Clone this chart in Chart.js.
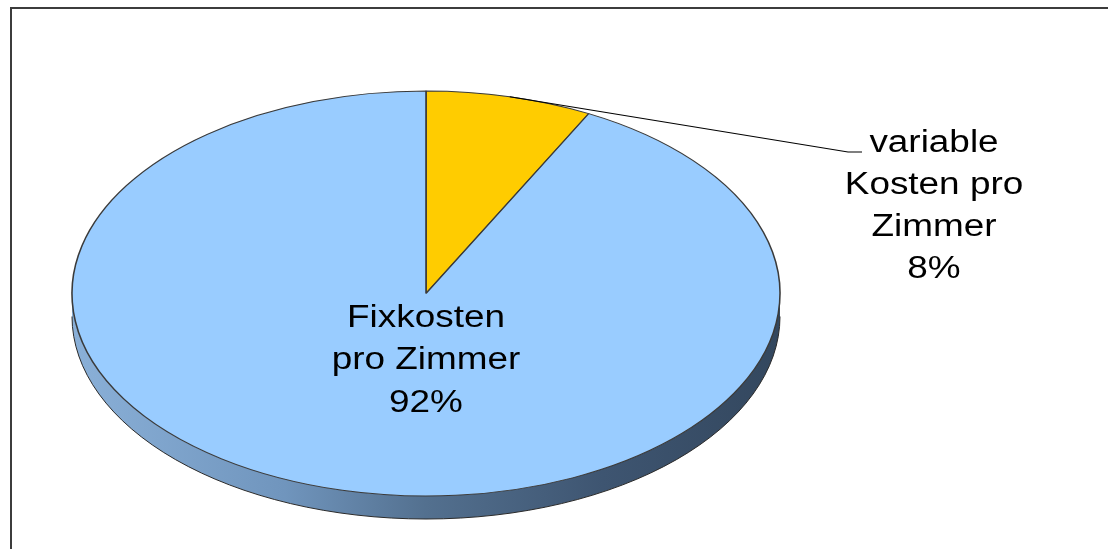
<!DOCTYPE html>
<html>
<head>
<meta charset="utf-8">
<script src="https://cdn.jsdelivr.net/npm/chart.js@4.4.1/dist/chart.umd.min.js"></script>
<style>
html,body{margin:0;padding:0;background:#fff;overflow:hidden;}
#c{display:block;}
</style>
</head>
<body>
<canvas id="c" width="1108" height="549"></canvas>
<script>
// ---- data ----
const categories = ['variable Kosten pro Zimmer', 'Fixkosten pro Zimmer'];
const nameLines = [['variable', 'Kosten pro', 'Zimmer'], ['Fixkosten', 'pro Zimmer']];
const values = [7.6, 92.4];
const colors = ['#FFCC00', '#99CCFF'];

// ---- styling / geometry ----
const SX = 354 / 202.5;      // horizontal stretch of the pie (ellipse)
const DEPTH = 23;            // 3D side depth
const FONT = '31px "Liberation Sans", Arial, sans-serif';
const TEXT_SX = 1.19;        // horizontal stretch of text

function drawText(ctx, s, x, y) {
  ctx.save();
  ctx.translate(x, y);
  ctx.scale(TEXT_SX, 1);
  ctx.fillText(s, 0, 0);
  ctx.restore();
}

const pie3d = {
  id: 'pie3d',
  beforeDraw(chart) {
    const ctx = chart.ctx;
    ctx.save();
    ctx.fillStyle = '#fff';
    ctx.fillRect(0, 0, chart.width, chart.height);
    ctx.strokeStyle = '#3c3c3c';
    ctx.lineWidth = 2;
    ctx.strokeRect(11, 8, 2000, 2000);
    ctx.restore();
  },
  beforeDatasetsDraw(chart) {
    const ctx = chart.ctx;
    const arc = chart.getDatasetMeta(0).data[0];
    const cx = arc.x, cy = arc.y, r = arc.outerRadius;
    const rx = r * SX, ry = r;
    ctx.save();
    const g = ctx.createLinearGradient(cx - rx, 0, cx + rx, 0);
    g.addColorStop(0, '#8AB0D8');
    g.addColorStop(0.3, '#7095BD');
    g.addColorStop(0.5, '#53708F');
    g.addColorStop(0.75, '#3E5571');
    g.addColorStop(1, '#33475E');
    ctx.beginPath();
    ctx.ellipse(cx, cy, rx, ry, 0, 0, Math.PI);
    ctx.ellipse(cx, cy + DEPTH, rx, ry, 0, Math.PI, 0, true);
    ctx.closePath();
    ctx.fillStyle = g;
    ctx.fill();
    ctx.beginPath();
    ctx.ellipse(cx, cy + DEPTH, rx, ry, 0, 0, Math.PI);
    ctx.strokeStyle = '#2a2a2a';
    ctx.lineWidth = 1;
    ctx.stroke();
    ctx.restore();
    // stretch the top face horizontally
    ctx.save();
    ctx.translate(cx, cy);
    ctx.scale(SX, 1);
    ctx.translate(-cx, -cy);
  },
  afterDatasetsDraw(chart) {
    chart.ctx.restore();
  },
  afterDraw(chart) {
    const ctx = chart.ctx;
    const meta = chart.getDatasetMeta(0);
    const total = values.reduce((a, b) => a + b, 0);
    const a0 = meta.data[0];
    const cx = a0.x, cy = a0.y, r = a0.outerRadius;
    ctx.save();
    ctx.font = FONT;
    ctx.fillStyle = '#000';
    ctx.textAlign = 'center';
    ctx.textBaseline = 'alphabetic';

    // label 0 : outside with leader line
    const mid = (a0.startAngle + a0.endAngle) / 2;
    const px = cx + Math.cos(mid) * r * SX;
    const py = cy + Math.sin(mid) * r;
    ctx.beginPath();
    ctx.moveTo(px, py);
    ctx.lineTo(cx + 422, cy - 141.5);
    ctx.lineTo(cx + 436, cy - 141.5);
    ctx.strokeStyle = '#000';
    ctx.lineWidth = 1.2;
    ctx.stroke();
    const l0 = nameLines[0].concat([Math.round(values[0] / total * 100) + '%']);
    l0.forEach((s, i) => drawText(ctx, s, cx + 508, cy - 141.5 + i * 42));

    // label 1 : inside
    const l1 = nameLines[1].concat([Math.round(values[1] / total * 100) + '%']);
    l1.forEach((s, i) => drawText(ctx, s, cx, cy + 33.5 + i * 42.3));
    ctx.restore();
  }
};

new Chart(document.getElementById('c'), {
  type: 'pie',
  data: {
    labels: categories,
    datasets: [{
      data: values,
      backgroundColor: colors,
      borderColor: '#3a3a3a',
      borderWidth: 0.9,
      clip: false
    }]
  },
  options: {
    responsive: false,
    animation: false,
    radius: 202.5,
    layout: { padding: { left: 223.5, right: 479.5, top: 91, bottom: 53 } },
    plugins: { legend: { display: false }, tooltip: { enabled: false } },
    events: []
  },
  plugins: [pie3d]
});
</script>
</body>
</html>
